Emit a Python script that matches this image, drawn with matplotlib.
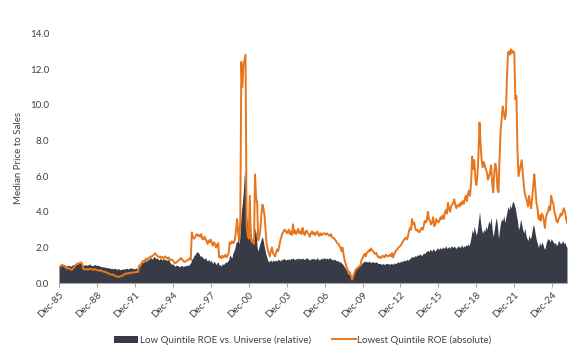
import numpy as np
import matplotlib.pyplot as plt
from matplotlib.patches import Patch
from matplotlib.lines import Line2D

plt.rcParams["font.family"] = ["Lato", "DejaVu Sans"]

# monthly values, Dec-85 first, then one row per calendar year (Jan..Dec)
lowest_roe_abs = [
    0.85,
    0.92, 0.98, 1.03, 1.0, 0.95, 0.9, 0.85, 0.82, 0.88, 0.8, 0.78, 0.75,  # 1986
    0.8, 0.88, 0.95, 1.02, 1.1, 1.08, 1.12, 1.15, 1.17, 1.1, 0.8, 0.78,
    0.78, 0.8, 0.76, 0.8, 0.78, 0.82, 0.78, 0.75, 0.77, 0.8, 0.76, 0.74,
    0.72, 0.7, 0.74, 0.7, 0.68, 0.65, 0.66, 0.62, 0.6, 0.58, 0.55, 0.52,
    0.5, 0.48, 0.5, 0.45, 0.42, 0.4, 0.38, 0.35, 0.36, 0.38, 0.4, 0.42,  # 1990
    0.45, 0.5, 0.55, 0.52, 0.55, 0.58, 0.55, 0.6, 0.58, 0.6, 0.62, 0.6,
    0.63, 0.65, 0.62, 1.0, 0.95, 1.1, 1.2, 1.25, 1.2, 1.35, 1.3, 1.4,
    1.38, 1.45, 1.5, 1.48, 1.55, 1.6, 1.68, 1.62, 1.55, 1.5, 1.45, 1.5,
    1.42, 1.48, 1.4, 1.45, 1.5, 1.42, 1.38, 1.45, 1.35, 1.3, 1.32, 1.28,
    1.2, 1.12, 1.15, 1.2, 1.25, 1.3, 1.38, 1.4, 1.32, 1.25, 1.2, 1.22,  # 1995
    1.25, 1.3, 1.35, 1.4, 1.3, 2.85, 2.6, 2.5, 2.55, 2.7, 2.75, 2.65,
    2.7, 2.6, 2.75, 2.5, 2.45, 2.6, 2.5, 2.35, 2.2, 2.4, 2.3, 2.45,
    2.25, 2.1, 2.3, 2.2, 2.0, 2.15, 2.25, 1.45, 1.5, 1.4, 1.55, 1.45,
    1.5, 1.6, 1.45, 1.55, 1.7, 2.3, 2.2, 2.35, 2.25, 2.3, 2.5, 3.0,
    3.6, 2.8, 2.4, 3.5, 12.4, 11.0, 12.2, 12.5, 12.8, 3.2, 2.7, 2.5,  # 2000
    4.9, 2.5, 2.3, 2.4, 2.2, 6.1, 4.8, 4.5, 2.4, 2.6, 3.0, 3.8,
    4.4, 4.2, 3.8, 3.0, 2.2, 1.9, 1.7, 1.5, 1.8, 2.0, 1.7, 1.6,
    1.5, 1.7, 1.9, 1.8, 2.1, 2.4, 2.6, 2.8, 2.9, 3.0, 2.95, 2.8,
    2.85, 3.0, 2.75, 2.9, 2.7, 3.3, 2.8, 2.95, 2.75, 2.9, 3.05, 2.8,
    2.9, 2.75, 3.1, 2.85, 2.7, 2.9, 2.95, 2.8, 2.75, 2.6, 2.8, 2.9,  # 2005
    2.75, 2.85, 2.7, 2.8, 2.9, 2.75, 2.65, 2.8, 2.7, 2.75, 2.8, 2.78,
    2.72, 2.8, 2.75, 2.7, 2.65, 2.75, 2.6, 2.55, 2.5, 2.45, 2.35, 2.25,
    2.2, 2.1, 2.0, 1.8, 2.0, 1.6, 1.3, 1.1, 0.9, 0.7, 0.6, 0.62,
    0.4, 0.2, 0.35, 0.55, 0.7, 0.8, 0.85, 0.9, 0.95, 1.0, 1.3, 1.4,
    1.55, 1.65, 1.5, 1.7, 1.75, 1.85, 1.8, 1.95, 1.85, 1.8, 1.7, 1.65,  # 2010
    1.7, 1.55, 1.45, 1.5, 1.4, 1.45, 1.55, 1.5, 1.45, 1.6, 1.55, 1.5,
    1.55, 1.6, 1.5, 1.7, 1.45, 1.6, 1.75, 1.85, 1.9, 2.0, 2.05, 2.1,
    2.2, 2.3, 2.4, 2.5, 2.55, 2.45, 2.6, 2.9, 3.1, 3.0, 3.6, 3.3,
    3.4, 3.1, 2.95, 3.0, 2.9, 2.85, 3.0, 3.1, 3.0, 3.2, 3.5, 3.4,
    3.5, 4.0, 3.6, 3.5, 3.3, 3.4, 3.7, 3.2, 3.3, 3.6, 3.5, 3.4,  # 2015
    3.5, 3.7, 3.6, 3.8, 3.6, 3.9, 4.1, 3.9, 4.5, 4.2, 4.0, 4.3,
    4.4, 4.5, 4.7, 4.4, 4.2, 4.35, 4.4, 4.3, 4.5, 4.4, 4.6, 4.45,
    4.7, 4.9, 4.6, 5.0, 5.2, 4.9, 5.6, 7.1, 6.4, 6.9, 5.9, 5.5,
    6.0, 7.2, 9.0, 7.8, 6.9, 6.5, 6.8, 6.6, 6.4, 6.2, 5.8, 6.0,
    6.2, 6.6, 5.6, 5.1, 6.2, 6.7, 6.4, 5.3, 5.1, 7.0, 8.5, 9.2,  # 2020
    9.9, 9.6, 9.2, 9.4, 11.5, 12.9, 13.0, 12.8, 13.1, 12.9, 13.0, 12.9,
    10.3, 10.5, 7.5, 6.0, 6.3, 6.6, 6.9, 6.2, 5.5, 5.0, 4.8, 4.6,
    4.3, 4.9, 4.5, 4.2, 4.8, 5.5, 6.1, 5.3, 4.5, 4.2, 3.6, 3.8,
    3.5, 3.9, 3.8, 3.5, 3.1, 3.7, 3.9, 4.0, 4.3, 4.1, 4.9, 4.6,
    4.5, 4.0, 3.8, 3.5, 3.4, 3.6, 3.7, 3.9, 3.8, 4.0, 4.2, 4.0,  # 2025
    3.7, 3.4,
]

low_roe_rel = [
    1.0,
    1.05, 1.0, 0.98, 1.02, 1.05, 1.0, 0.95, 1.0, 1.02, 0.98, 0.95, 1.0,  # 1986
    1.02, 1.05, 1.08, 1.1, 1.12, 1.1, 1.15, 1.12, 1.1, 1.08, 1.02, 1.0,
    1.05, 1.02, 1.0, 1.05, 1.08, 1.02, 1.0, 0.98, 1.02, 1.05, 1.0, 1.02,
    0.98, 1.0, 0.95, 0.92, 0.95, 0.9, 0.92, 0.88, 0.9, 0.85, 0.88, 0.85,
    0.82, 0.85, 0.8, 0.82, 0.85, 0.8, 0.78, 0.82, 0.8, 0.75, 0.78, 0.8,  # 1990
    0.78, 0.82, 0.8, 0.85, 0.82, 0.8, 0.85, 0.88, 0.82, 0.85, 0.8, 0.82,
    0.85, 0.82, 0.88, 1.0, 0.95, 1.1, 1.2, 1.15, 1.25, 1.3, 1.2, 1.35,
    1.3, 1.4, 1.45, 1.35, 1.4, 1.5, 1.45, 1.38, 1.42, 1.35, 1.3, 1.4,
    1.35, 1.3, 1.4, 1.32, 1.35, 1.28, 1.3, 1.35, 1.2, 1.1, 1.05, 1.1,
    1.0, 0.95, 1.02, 0.98, 1.0, 0.92, 0.95, 1.0, 0.98, 0.92, 0.98, 1.0,  # 1995
    0.98, 1.02, 1.0, 1.08, 1.15, 1.35, 1.4, 1.55, 1.6, 1.7, 1.78, 1.72,
    1.65, 1.5, 1.55, 1.45, 1.4, 1.35, 1.45, 1.3, 1.25, 1.35, 1.2, 1.3,
    1.2, 1.1, 1.25, 1.15, 1.05, 1.15, 1.2, 1.0, 1.05, 0.95, 1.1, 1.05,
    1.1, 1.2, 1.15, 1.25, 1.3, 1.6, 1.5, 1.4, 1.7, 1.8, 2.0, 2.3,
    2.3, 2.5, 2.2, 3.0, 4.0, 4.5, 5.2, 6.3, 5.6, 3.8, 3.0, 3.5,  # 2000
    4.8, 2.8, 2.5, 2.2, 2.4, 3.1, 2.8, 2.0, 1.8, 2.1, 2.3, 2.5,
    2.6, 2.3, 2.0, 1.7, 1.5, 1.3, 1.2, 1.25, 1.3, 1.2, 1.3, 1.25,
    1.25, 1.3, 1.25, 1.35, 1.3, 1.25, 1.35, 1.3, 1.4, 1.35, 1.3, 1.35,
    1.32, 1.38, 1.3, 1.4, 1.35, 1.42, 1.36, 1.32, 1.4, 1.35, 1.42, 1.36,
    1.4, 1.35, 1.42, 1.36, 1.32, 1.4, 1.44, 1.36, 1.34, 1.3, 1.36, 1.4,  # 2005
    1.35, 1.4, 1.32, 1.36, 1.44, 1.35, 1.3, 1.36, 1.4, 1.35, 1.44, 1.4,
    1.36, 1.42, 1.35, 1.4, 1.44, 1.36, 1.34, 1.3, 1.35, 1.32, 1.25, 1.28,
    1.24, 1.18, 1.22, 1.12, 1.08, 1.0, 0.9, 0.8, 0.7, 0.55, 0.5, 0.55,
    0.35, 0.2, 0.35, 0.55, 0.7, 0.8, 0.85, 0.9, 0.95, 1.0, 1.1, 1.15,
    1.2, 1.25, 1.2, 1.22, 1.18, 1.25, 1.2, 1.15, 1.2, 1.22, 1.15, 1.18,  # 2010
    1.2, 1.15, 1.1, 1.12, 1.1, 1.05, 1.1, 1.08, 1.05, 1.1, 1.12, 1.08,
    1.1, 1.05, 1.12, 1.1, 1.05, 1.15, 1.1, 1.12, 1.18, 1.2, 1.15, 1.22,
    1.25, 1.2, 1.3, 1.28, 1.25, 1.35, 1.3, 1.32, 1.4, 1.45, 1.5, 1.45,
    1.5, 1.55, 1.5, 1.6, 1.55, 1.65, 1.6, 1.55, 1.62, 1.7, 1.65, 1.75,
    1.8, 1.85, 1.75, 1.9, 1.85, 1.8, 1.95, 1.85, 1.8, 1.9, 2.0, 1.9,  # 2015
    1.95, 2.0, 1.9, 2.05, 1.95, 2.0, 2.1, 1.95, 2.0, 2.05, 1.95, 2.1,
    2.05, 2.0, 2.1, 2.0, 1.95, 2.05, 2.1, 2.0, 2.05, 2.15, 2.0, 2.1,
    2.05, 2.15, 2.1, 2.2, 2.1, 2.3, 2.6, 3.0, 2.8, 3.2, 2.9, 2.7,
    3.0, 3.5, 4.0, 3.4, 3.0, 2.8, 3.0, 2.9, 3.2, 3.0, 3.3, 3.5,
    3.3, 3.7, 3.0, 2.6, 3.0, 3.4, 3.7, 3.2, 2.5, 3.0, 3.4, 3.6,  # 2020
    3.5, 3.8, 3.4, 3.7, 4.0, 4.3, 4.1, 4.4, 4.2, 4.5, 4.6, 4.4,
    4.2, 3.8, 3.5, 3.0, 3.2, 3.6, 3.3, 3.0, 2.8, 3.1, 2.7, 2.5,
    2.4, 2.7, 2.5, 2.6, 3.0, 3.3, 3.1, 2.7, 2.4, 2.2, 2.0, 2.3,
    2.1, 2.3, 2.2, 2.0, 1.9, 2.2, 2.4, 2.5, 2.45, 2.3, 2.5, 2.4,
    2.3, 2.2, 2.3, 2.1, 2.2, 2.4, 2.3, 2.2, 2.3, 2.4, 2.2, 2.3,  # 2025
    2.1, 2.0,
]

tick_labels = ["Dec-85", "Dec-88", "Dec-91", "Dec-94", "Dec-97", "Dec-00", "Dec-03",
               "Dec-06", "Dec-09", "Dec-12", "Dec-15", "Dec-18", "Dec-21", "Dec-24"]
y_ticks = [0, 2, 4, 6, 8, 10, 12, 14]

DARK = "#363b46"
ORANGE = "#e8761c"

months = np.arange(len(lowest_roe_abs))

fig = plt.figure(figsize=(5.74, 3.51), dpi=100)
ax = fig.add_axes([0.1028, 0.193, 0.885, 0.712])

ax.fill_between(months, 0, low_roe_rel, color=DARK, linewidth=0)
ax.plot(months, lowest_roe_abs, color=ORANGE, lw=1.4)

ax.set_xlim(0, len(months) - 1)
ax.set_ylim(0, 14)
ax.set_yticks(y_ticks)
ax.set_yticklabels([f"{v:.1f}" for v in y_ticks])
ax.set_xticks(np.arange(len(tick_labels)) * 36)
ax.set_xticklabels(tick_labels, rotation=45, ha="right", rotation_mode="anchor")

for side in ("top", "right", "left"):
    ax.spines[side].set_visible(False)
ax.spines["bottom"].set_color("#a6a6a6")
ax.spines["bottom"].set_linewidth(0.8)
ax.tick_params(axis="x", length=3, colors="#a6a6a6", labelcolor="#404040", labelsize=7, pad=2)
ax.tick_params(axis="y", length=0, labelsize=7, labelcolor="#404040", pad=7)
ax.set_ylabel("Median Price to Sales", fontsize=7, color="#404040", labelpad=5)

handles = [Patch(facecolor=DARK, edgecolor="none"), Line2D([0], [0], color=ORANGE, lw=1.4)]
fig.legend(handles, ["Low Quintile ROE vs. Universe (relative)", "Lowest Quintile ROE (absolute)"],
           loc="center", bbox_to_anchor=(0.528, 0.031), ncol=2, frameon=False,
           fontsize=7, handlelength=2.4, handletextpad=0.2, columnspacing=2.2,
           labelcolor="#404040")

fig.savefig("out.png", dpi=100)
